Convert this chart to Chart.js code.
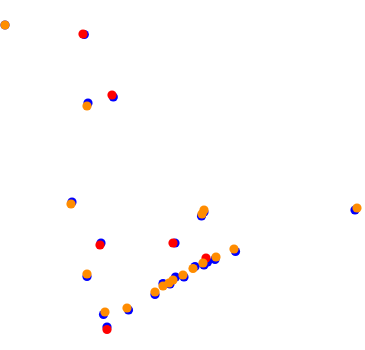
<!DOCTYPE html>
<html>
<head>
<meta charset="utf-8">
<script src="https://cdn.jsdelivr.net/npm/chart.js@4"></script>
<style>
  html, body { margin: 0; padding: 0; background: #fff; }
  #wrap { width: 365px; height: 350px; }
</style>
</head>
<body>
<div id="wrap"><canvas id="scatterChart" width="365" height="350"></canvas></div>
<script>
// Values (x right, y down)
const orangeX = [5, 87, 71, 87, 105, 127, 204, 202, 357, 234, 216, 203, 193, 183, 173, 169, 163, 155];
const orangeY = [25, 106, 204, 274, 312, 308, 210, 214, 208, 249, 257, 263, 268.5, 275, 280, 283, 286, 292];

const redX = [83, 112, 100, 107, 173, 206];
const redY = [34, 95, 245, 329.5, 243, 258];

const blueX = [5, 84.3, 113.3, 88, 72, 101, 87, 103.5, 128.5, 107, 175, 204, 201.5, 355, 235.5, 215, 207.5, 204, 195, 184, 175.5, 170, 163, 155];
const blueY = [25, 34.5, 97, 103, 202, 243, 276.5, 314.5, 310, 327, 243, 212, 216, 210, 251.5, 259.5, 262, 265, 266.5, 277, 277, 284, 283.5, 294.5];

const RADIUS = 4.6;

const toPoints = (xs, ys) => xs.map((x, i) => ({ x: x, y: ys[i] }));

const pointStyle = (color) => ({
    backgroundColor: color,
    borderWidth: 0,
    pointRadius: RADIUS,
    pointHoverRadius: RADIUS,
    clip: false
});

document.addEventListener('DOMContentLoaded', function () {
    const ctx = document.getElementById('scatterChart').getContext('2d');
    new Chart(ctx, {
        type: 'scatter',
        data: {
            // first dataset is painted on top
            datasets: [
                { label: 'orange', data: toPoints(orangeX, orangeY), ...pointStyle('#ff8c00') },
                { label: 'red', data: toPoints(redX, redY), ...pointStyle('#ff0000') },
                { label: 'blue', data: toPoints(blueX, blueY), ...pointStyle('#0000ff') }
            ]
        },
        options: {
            responsive: false,
            animation: false,
            layout: { padding: 0 },
            plugins: { legend: { display: false }, tooltip: { enabled: false } },
            scales: {
                // the chart area is inset by the point radius, so widen the range to match
                x: { type: 'linear', min: RADIUS, max: 365 - RADIUS, display: false },
                y: { type: 'linear', min: RADIUS, max: 350 - RADIUS, reverse: true, display: false }
            }
        }
    });
});
</script>
</body>
</html>
